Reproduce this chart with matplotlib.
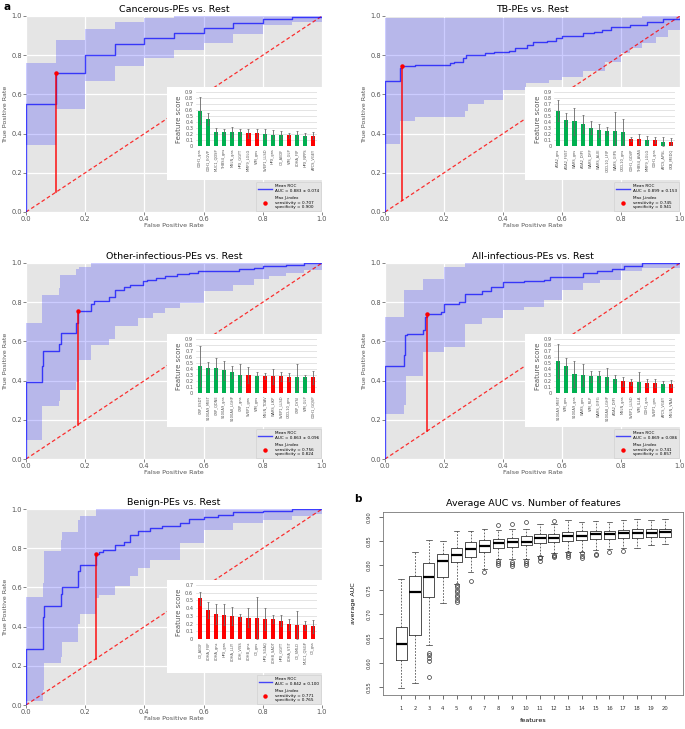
import matplotlib
matplotlib.use('Agg')
import matplotlib.pyplot as plt
import numpy as np

# ---------------- DATA ----------------
# Panel 1: Cancerous-PEs vs. Rest
c_mean_fpr = [0, 0, 0.1, 0.2, 0.3, 0.4, 0.5, 0.6, 0.7, 0.8, 0.9, 1.0]
c_mean_tpr = [0, 0.553, 0.707, 0.80, 0.857, 0.886, 0.915, 0.937, 0.963, 0.983, 0.993, 1.0]
c_band_fpr = [0, 0.1, 0.2, 0.3, 0.4, 0.5, 0.6, 0.7, 0.8, 0.9, 1.0]
c_band_lo = [0.341, 0.528, 0.670, 0.744, 0.784, 0.826, 0.864, 0.908, 0.954, 0.971, 0.971]
c_band_hi = [0.761, 0.877, 0.935, 0.969, 0.988, 1.0, 1.0, 1.0, 1.0, 1.0, 1.0]
c_auc, c_auc_sd, c_sens, c_spec = 0.883, 0.074, 0.707, 0.900
c_feats = ['CDH1_gns', 'CDH1_EGVP', 'MUC1_QDSP', 'THBS4_gns', 'MSLN_gns', 'HPX_GGYT',
           'MMP9_LGLG', 'VIM_gns', 'SVEP1_LLSD', 'HPX_gns', 'C3_AEDF', 'VIM_GLP',
           'LDHA_FIP', 'HPX_NPPS', 'APCS_VGEY']
c_scores = [0.59, 0.445, 0.237, 0.236, 0.232, 0.226, 0.214, 0.208, 0.198, 0.19, 0.185, 0.18, 0.18, 0.174, 0.169]
c_errs = [0.23, 0.10, 0.055, 0.051, 0.083, 0.064, 0.076, 0.067, 0.077, 0.07, 0.062, 0.04, 0.067, 0.046, 0.061]
c_colors = ['g', 'g', 'g', 'g', 'g', 'g', 'r', 'r', 'g', 'g', 'g', 'r', 'g', 'g', 'r']

# Panel 2: TB-PEs vs. Rest
t_mean_fpr = [0, 0, 0.05, 0.059, 0.10, 0.22, 0.235, 0.265, 0.275, 0.34, 0.37, 0.42, 0.44, 0.48,
              0.50, 0.55, 0.58, 0.60, 0.67, 0.71, 0.735, 0.765, 0.83, 0.887, 0.944, 1.0]
t_mean_tpr = [0, 0.67, 0.735, 0.745, 0.75, 0.76, 0.767, 0.785, 0.80, 0.81, 0.818, 0.823, 0.835, 0.85,
              0.865, 0.875, 0.89, 0.898, 0.912, 0.92, 0.93, 0.945, 0.955, 0.97, 0.985, 1.0]
t_band_fpr = [0, 0.05, 0.1, 0.27, 0.28, 0.336, 0.40, 0.477, 0.555, 0.60, 0.67, 0.745, 0.80, 0.83,
              0.87, 0.92, 0.96, 1.0]
t_band_lo = [0.346, 0.465, 0.486, 0.516, 0.549, 0.571, 0.622, 0.656, 0.673, 0.69, 0.72, 0.767, 0.809,
             0.838, 0.864, 0.894, 0.928, 0.96]
t_band_hi = [0.99, 0.99, 0.99, 0.99, 0.99, 0.99, 0.99, 0.99, 0.99, 0.99, 0.99, 0.99, 0.99, 0.99,
             1.0, 1.0, 1.0, 1.0]
t_auc, t_auc_sd, t_sens, t_spec = 0.899, 0.153, 0.745, 0.941
t_feats = ['ADA2_gns', 'ADA2_FVET', 'WARS_gns', 'ADA2_DIPI', 'WARS_DFP', 'WARS_ALIE',
           'CXCL10_LFIP', 'WARS_GIPS', 'CXCL10_gns', 'CDH1_GDVP', 'THBS4_AVAS', 'MMP9_LGLG',
           'CDH1_gns', 'APCS_APSL', 'CKB_MEDQ']
t_scores = [0.585, 0.435, 0.41, 0.37, 0.305, 0.26, 0.25, 0.25, 0.23, 0.118, 0.112, 0.10, 0.10, 0.073, 0.073]
t_errs = [0.175, 0.11, 0.225, 0.15, 0.105, 0.105, 0.06, 0.32, 0.22, 0.032, 0.085, 0.07, 0.057, 0.073, 0.057]
t_colors = ['g', 'g', 'g', 'g', 'g', 'g', 'g', 'g', 'g', 'r', 'r', 'g', 'r', 'g', 'r']

# Panel 3: Other-infectious-PEs vs. Rest
o_mean_fpr = [0, 0, 0.055, 0.057, 0.113, 0.118, 0.17, 0.176, 0.22, 0.23, 0.28, 0.30, 0.33, 0.35,
              0.395, 0.41, 0.44, 0.47, 0.51, 0.55, 0.58, 0.72, 0.77, 0.80, 0.88, 0.94, 1.0]
o_mean_tpr = [0, 0.394, 0.476, 0.551, 0.585, 0.645, 0.695, 0.756, 0.79, 0.805, 0.829, 0.862, 0.877,
              0.889, 0.91, 0.915, 0.923, 0.935, 0.944, 0.95, 0.959, 0.969, 0.976, 0.983, 0.99, 1.0, 1.0]
o_band_fpr = [0, 0.055, 0.11, 0.115, 0.17, 0.18, 0.22, 0.28, 0.30, 0.38, 0.43, 0.47, 0.52, 0.60,
              0.70, 0.77, 0.82, 0.88, 0.94, 1.0]
o_band_lo = [0.096, 0.27, 0.297, 0.352, 0.394, 0.505, 0.582, 0.611, 0.679, 0.718, 0.747, 0.768, 0.795,
             0.855, 0.889, 0.92, 0.932, 0.949, 0.966, 0.975]
o_band_hi = [0.696, 0.838, 0.872, 0.937, 0.971, 0.98, 1.0, 1.0, 1.0, 1.0, 1.0, 1.0, 1.0, 1.0,
             1.0, 1.0, 1.0, 1.0, 1.0, 1.0]
o_auc, o_auc_sd, o_sens, o_spec = 0.863, 0.096, 0.756, 0.824
o_feats = ['CRP_ESDT', 'S100A9_MIET', 'CRP_QDNE', 'S100A9_gns', 'S100A8_LGHP', 'CRP_gns',
           'SVEP1_gns', 'VIM_gns', 'MSLN_TDAV', 'WARS_LIKP', 'SVEP1_LLSD', 'CXCL10_gns',
           'CRP_DYSI', 'VIM_GLP', 'CDH1_GQVP']
o_scores = [0.448, 0.419, 0.413, 0.378, 0.349, 0.308, 0.30, 0.29, 0.285, 0.28, 0.28, 0.267, 0.267, 0.267, 0.262]
o_errs = [0.332, 0.10, 0.174, 0.157, 0.104, 0.18, 0.136, 0.065, 0.052, 0.127, 0.075, 0.07, 0.216, 0.041, 0.11]
o_colors = ['g', 'g', 'g', 'g', 'g', 'g', 'r', 'g', 'r', 'r', 'r', 'r', 'g', 'g', 'r']

# Panel 4: All-infectious-PEs vs. Rest
a_mean_fpr = [0, 0, 0.065, 0.068, 0.075, 0.13, 0.135, 0.143, 0.19, 0.20, 0.25, 0.27, 0.33, 0.36,
              0.40, 0.47, 0.54, 0.56, 0.67, 0.72, 0.77, 0.81, 0.87, 1.0]
a_mean_tpr = [0, 0.476, 0.529, 0.635, 0.64, 0.659, 0.724, 0.741, 0.749, 0.792, 0.802, 0.843, 0.855,
              0.875, 0.901, 0.906, 0.915, 0.93, 0.949, 0.96, 0.97, 0.985, 1.0, 1.0]
a_band_fpr = [0, 0.065, 0.07, 0.13, 0.2, 0.27, 0.33, 0.4, 0.47, 0.54, 0.6, 0.67, 0.73, 0.8, 0.87, 1.0]
a_band_lo = [0.229, 0.275, 0.425, 0.548, 0.57, 0.688, 0.718, 0.761, 0.775, 0.81, 0.863, 0.898, 0.915,
             0.957, 0.975, 0.98]
a_band_hi = [0.724, 0.863, 0.863, 0.92, 0.98, 1.0, 1.0, 1.0, 1.0, 1.0, 1.0, 1.0, 1.0, 1.0, 1.0, 1.0]
a_auc, a_auc_sd, a_sens, a_spec = 0.869, 0.086, 0.741, 0.857
a_feats = ['S100A9_MIET', 'VIM_gns', 'S100A9_gns', 'WARS_gns', 'VIM_RLP', 'WARS_GIFG',
           'S100A8_LGHP', 'ADA2_DIPI', 'MSLN_gns', 'SVEP1_LLSD', 'VIM_ILLA', 'CDH1_gns',
           'SVEP1_gns', 'APCS_VGEY', 'MSLN_VNAI']
a_scores = [0.535, 0.448, 0.32, 0.30, 0.28, 0.28, 0.273, 0.233, 0.198, 0.186, 0.186, 0.163, 0.163, 0.157, 0.157]
a_errs = [0.279, 0.139, 0.215, 0.177, 0.092, 0.092, 0.14, 0.075, 0.075, 0.052, 0.169, 0.064, 0.064, 0.046, 0.058]
a_colors = ['g', 'g', 'g', 'g', 'g', 'g', 'g', 'g', 'r', 'r', 'g', 'r', 'r', 'g', 'r']

# Panel 5: Benign-PEs vs. Rest
b_mean_fpr = [0, 0, 0.057, 0.06, 0.118, 0.122, 0.176, 0.182, 0.235, 0.245, 0.26, 0.30, 0.33, 0.35,
              0.38, 0.42, 0.46, 0.52, 0.55, 0.60, 0.65, 0.70, 0.80, 0.90, 1.0]
b_mean_tpr = [0, 0.286, 0.45, 0.503, 0.566, 0.601, 0.685, 0.715, 0.771, 0.78, 0.79, 0.818, 0.83,
              0.869, 0.89, 0.905, 0.915, 0.928, 0.95, 0.96, 0.97, 0.986, 0.99, 1.0, 1.0]
b_band_fpr = [0, 0.057, 0.06, 0.118, 0.122, 0.176, 0.182, 0.235, 0.245, 0.30, 0.35, 0.38, 0.42,
              0.52, 0.60, 0.70, 0.80, 0.90, 0.97, 1.0]
b_band_lo = [0.022, 0.077, 0.216, 0.247, 0.32, 0.414, 0.465, 0.545, 0.562, 0.605, 0.656, 0.698, 0.741,
             0.826, 0.894, 0.928, 0.945, 0.962, 0.975, 0.975]
b_band_hi = [0.55, 0.622, 0.787, 0.843, 0.884, 0.945, 0.963, 1.0, 1.0, 1.0, 1.0, 1.0, 1.0, 1.0,
             1.0, 1.0, 1.0, 1.0, 1.0, 1.0]
b_auc, b_auc_sd, b_sens, b_spec = 0.842, 0.100, 0.771, 0.765
b_feats = ['C3_AEDF', 'LDHA_FIIP', 'LDHA_gns', 'HPX_gns', 'LDHA_LLIY', 'LDH_VISS', 'LDHB_gns',
           'C3_gns', 'HPX_SGAQ', 'LDHB_SADT', 'HPX_GGYT', 'LDHA_VTIT', 'C3_SMLD', 'MUC1_QSGP', 'C3_gss']
b_scores = [0.53, 0.376, 0.32, 0.312, 0.299, 0.282, 0.278, 0.274, 0.26, 0.256, 0.235, 0.188, 0.179, 0.175, 0.167]
b_errs = [0.085, 0.107, 0.129, 0.137, 0.116, 0.047, 0.119, 0.277, 0.142, 0.052, 0.073, 0.068, 0.184, 0.056, 0.085]
b_colors = ['r'] * 15

# Panel b: Average AUC vs number of features (box statistics)
n_features = list(range(1, 21))
box_q1 = [0.605, 0.656, 0.736, 0.7765, 0.807, 0.818, 0.8273, 0.8355, 0.839, 0.8424, 0.8458, 0.8479,
          0.8513, 0.8527, 0.854, 0.8554, 0.8575, 0.856, 0.8588, 0.8581]
box_med = [0.639, 0.746, 0.7758, 0.809, 0.822, 0.8335, 0.8403, 0.8458, 0.8492, 0.849, 0.856, 0.856,
           0.861, 0.8616, 0.8643, 0.865, 0.8664, 0.867, 0.8677, 0.8684]
box_q3 = [0.6735, 0.7785, 0.8046, 0.824, 0.835, 0.848, 0.8527, 0.854, 0.8568, 0.861, 0.8643, 0.8657,
          0.8698, 0.8705, 0.8719, 0.8705, 0.8732, 0.876, 0.876, 0.8746]
box_wlo = [0.547, 0.558, 0.637, 0.722, 0.762, 0.787, 0.7937, 0.8129, 0.8129, 0.8135, 0.8204, 0.8266,
           0.8286, 0.828, 0.832, 0.8334, 0.8369, 0.836, 0.8424, 0.8437]
box_whi = [0.772, 0.828, 0.852, 0.851, 0.870, 0.8705, 0.876, 0.872, 0.8746, 0.876, 0.886, 0.8856,
           0.8945, 0.8904, 0.891, 0.889, 0.8945, 0.8966, 0.8931, 0.8952]
box_outliers = [[], [], [0.619, 0.615, 0.609, 0.604, 0.571],
                [], [0.760, 0.755, 0.750, 0.746, 0.740, 0.735, 0.729, 0.724],
                [0.769], [0.786], [0.883, 0.809, 0.806, 0.802], [0.886, 0.808, 0.803, 0.799],
                [0.8897, 0.809, 0.805, 0.8005], [0.818, 0.815, 0.809], [0.892, 0.822, 0.819, 0.818],
                [0.825, 0.822, 0.817], [0.825, 0.820, 0.815], [0.8245, 0.8225], [0.827], [0.8307],
                [], [], []]

# ---------------- FIGURE ----------------
W, H = 685, 729
fig = plt.figure(figsize=(W / 100, H / 100), dpi=100)
plt.rcParams['font.family'] = ['DejaVu Sans']

BG = '#E5E5E5'
CMAP = {'g': '#00B050', 'r': '#FF0000'}
TXT = '#555555'


def px_axes(x0, y0, x1, y1):
    return fig.add_axes([x0 / W, 1 - y1 / H, (x1 - x0) / W, (y1 - y0) / H])


def roc_panel(rect, title, mfpr, mtpr, bfpr, blo, bhi, auc, auc_sd, sens, spec,
              feats, scores, errs, cols, ymax):
    ax = px_axes(*rect)
    ax.set_facecolor(BG)
    for s in ax.spines.values():
        s.set_visible(False)
    ax.grid(True, color='white', lw=0.9)
    ax.set_axisbelow(True)
    ax.fill_between(bfpr, blo, bhi, step='post', color='blue', alpha=0.2, lw=0)
    ax.plot([0, 1], [0, 1], '--', color='red', lw=0.9, alpha=0.8, dashes=(3, 2))
    line, = ax.plot(mfpr, mtpr, drawstyle='steps-post', color='blue', alpha=0.7, lw=1.0,
                    label='Mean ROC\nAUC = %.3f ± %.3f' % (auc, auc_sd))
    fpr = 1 - spec
    ax.plot([fpr, fpr], [fpr, sens], color='red', lw=1.2, alpha=0.85)
    dot, = ax.plot([fpr], [sens], 'o', color='red', ms=2.2, ls='none',
                   label='Max J-index\nsensitivity = %.3f\nspecificity = %.3f' % (sens, spec))
    ax.set_xlim(0, 1)
    ax.set_ylim(0, 1)
    tk = [0, 0.2, 0.4, 0.6, 0.8, 1.0]
    ax.set_xticks(tk)
    ax.set_yticks(tk)
    ax.set_xticklabels(['%.1f' % t for t in tk])
    ax.set_yticklabels(['%.1f' % t for t in tk])
    ax.tick_params(labelsize=4.8, colors=TXT, length=2, width=0.5, pad=1)
    ax.set_xlabel('False Positive Rate', fontsize=4.6, color=TXT, labelpad=0.5)
    ax.set_ylabel('True Positive Rate', fontsize=4.6, color=TXT, labelpad=2)
    ax.set_title(title, fontsize=6.8, pad=3)
    leg = ax.legend(handles=[line, dot], loc='lower right', fontsize=3.0, frameon=True,
                    facecolor=BG, edgecolor='#CCCCCC', framealpha=1, borderpad=0.5,
                    handlelength=3.2, labelspacing=0.8, borderaxespad=0.15, handletextpad=0.8)
    leg.get_frame().set_linewidth(0.4)

    # white inset box
    box = ax.inset_axes([0.476, 0.163, 0.524, 0.475])
    box.set_facecolor('white')
    box.set_xticks([])
    box.set_yticks([])
    for s in box.spines.values():
        s.set_visible(False)
    box.set_zorder(5)

    bax = ax.inset_axes([0.574, 0.337, 0.41, 0.275])
    bax.set_zorder(6)
    bax.patch.set_alpha(0)
    xs = np.arange(len(feats))
    bax.bar(xs, scores, width=0.5, color=[CMAP[c] for c in cols], yerr=errs,
            error_kw=dict(ecolor='#666666', elinewidth=0.6, capsize=1.0, capthick=0.5), zorder=3)
    bax.set_xlim(-0.5, len(feats) - 0.5)
    bax.set_ylim(0, ymax)
    yt = np.round(np.arange(0, ymax + 0.001, 0.1), 1)
    bax.set_yticks(yt)
    bax.set_yticklabels(['0' if v == 0 else '%.1f' % v for v in yt])
    bax.set_xticks(xs)
    bax.set_xticklabels(feats, rotation=90)
    bax.tick_params(axis='y', labelsize=3.6, colors=TXT, length=0, pad=2)
    bax.tick_params(axis='x', labelsize=2.6, colors=TXT, length=0, pad=2)
    bax.grid(True, axis='y', color='#D9D9D9', lw=0.5, zorder=0)
    bax.grid(False, axis='x')
    bax.set_axisbelow(True)
    for s in bax.spines.values():
        s.set_visible(False)
    bax.set_ylabel('Feature score', fontsize=5.0, color=TXT, labelpad=2)
    return ax


roc_panel((26, 16, 322, 212), 'Cancerous-PEs vs. Rest', c_mean_fpr, c_mean_tpr, c_band_fpr,
          c_band_lo, c_band_hi, c_auc, c_auc_sd, c_sens, c_spec, c_feats, c_scores, c_errs,
          c_colors, 0.9)
roc_panel((385, 16, 680, 212), 'TB-PEs vs. Rest', t_mean_fpr, t_mean_tpr, t_band_fpr,
          t_band_lo, t_band_hi, t_auc, t_auc_sd, t_sens, t_spec, t_feats, t_scores, t_errs,
          t_colors, 0.9)
roc_panel((26, 263, 322, 459), 'Other-infectious-PEs vs. Rest', o_mean_fpr, o_mean_tpr,
          o_band_fpr, o_band_lo, o_band_hi, o_auc, o_auc_sd, o_sens, o_spec, o_feats, o_scores,
          o_errs, o_colors, 0.9)
roc_panel((385, 263, 680, 459), 'All-infectious-PEs vs. Rest', a_mean_fpr, a_mean_tpr,
          a_band_fpr, a_band_lo, a_band_hi, a_auc, a_auc_sd, a_sens, a_spec, a_feats, a_scores,
          a_errs, a_colors, 0.9)
roc_panel((26, 509, 322, 705), 'Benign-PEs vs. Rest', b_mean_fpr, b_mean_tpr, b_band_fpr,
          b_band_lo, b_band_hi, b_auc, b_auc_sd, b_sens, b_spec, b_feats, b_scores, b_errs,
          b_colors, 0.7)

# ---- panel b ----
axb = px_axes(383, 512, 683, 695)
stats = []
for i in range(len(n_features)):
    stats.append(dict(med=box_med[i], q1=box_q1[i], q3=box_q3[i], whislo=box_wlo[i],
                      whishi=box_whi[i], fliers=box_outliers[i]))
axb.bxp(stats, positions=n_features, widths=0.8, capwidths=0.4, showfliers=True,
        boxprops=dict(lw=0.6, color='#333333'),
        medianprops=dict(color='black', lw=1.6),
        whiskerprops=dict(lw=0.5, color='#333333', ls=(0, (2.5, 2))),
        capprops=dict(lw=0.5, color='#333333'),
        flierprops=dict(marker='o', mfc='none', mec='#333333', ms=2.8, mew=0.5))
axb.set_xlim(-0.3, 21.3)
axb.set_ylim(0.5336, 0.910)
ytk = [0.55, 0.60, 0.65, 0.70, 0.75, 0.80, 0.85, 0.90]
axb.set_yticks(ytk)
axb.set_yticklabels(['%.2f' % v for v in ytk], rotation=90, va='center')
axb.set_xticks(n_features)
axb.set_xticklabels([str(n) for n in n_features])
axb.tick_params(labelsize=3.8, colors='#333333', length=3, width=0.5, pad=5)
for s in axb.spines.values():
    s.set_color('#777777')
    s.set_linewidth(0.6)
axb.set_xlabel('features', fontsize=4.6, labelpad=5)
axb.set_ylabel('average AUC', fontsize=4.6, labelpad=8)
axb.set_title('Average AUC vs. Number of features', fontsize=6.8, pad=4)

fig.text(3 / W, 1 - 2 / H, 'a', fontsize=7.5, fontweight='bold', va='top', ha='left')
fig.text(354 / W, 1 - 494 / H, 'b', fontsize=7.5, fontweight='bold', va='top', ha='left')

fig.savefig('out.png', dpi=100)
